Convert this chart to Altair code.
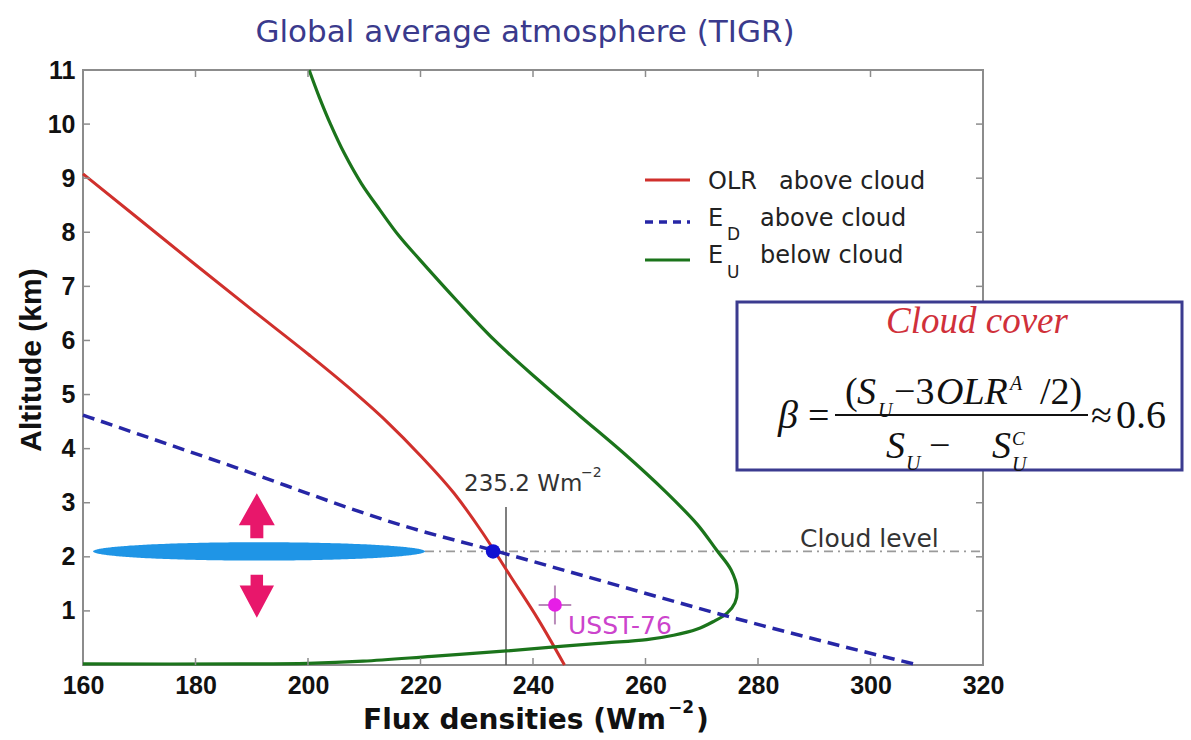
import altair as alt
import numpy as np
import pandas as pd

# ---- profiles: flux density (W m-2) against altitude (km) ----
OLR_FLUX = [160.0, 170.0, 180.0, 190.0, 200.0, 207.0, 214.0, 220.0, 226.0, 231.0, 236.0, 241.0, 245.6]
OLR_ALT = [9.08, 8.24, 7.40, 6.57, 5.75, 5.15, 4.50, 3.87, 3.17, 2.45, 1.64, 0.83, 0.00]

ED_FLUX = [160.0, 184.4, 218.7, 232.9, 250.0, 275.0, 298.7, 308.5]
ED_ALT = [4.62, 3.75, 2.52, 2.12, 1.62, 0.89, 0.25, 0.00]

EU_FLUX = [200.2, 202.0, 204.0, 206.5, 209.5, 212.8, 216.2, 219.9, 226.6, 233.2, 240.6, 248.4,
           256.3, 263.6, 269.2, 272.6, 275.2, 276.3, 275.9, 274.5, 272.0, 269.1, 265.0,
           260.2, 253.0, 245.4, 235.3, 222.0, 209.8, 200.0, 188.0, 160.0]
EU_ALT = [11.0, 10.5, 10.0, 9.45, 8.90, 8.41, 7.93, 7.49, 6.72, 6.00, 5.30, 4.60,
          3.90, 3.20, 2.60, 2.13, 1.76, 1.40, 1.15, 0.96, 0.80, 0.66, 0.55,
          0.47, 0.41, 0.35, 0.26, 0.16, 0.07, 0.03, 0.02, 0.02]

# cloud layer and annotated quantities
CLOUD_ALT = 2.1
CLOUD_CENTER = 191.3
CLOUD_HALF_WIDTH = 29.5
CLOUD_HALF_THICK = 0.17
OLR_CLOUD = 235.2
OLR_CLOUD_TOP = 2.92
CROSS_FLUX, CROSS_ALT = 232.9, 2.1
USST_FLUX, USST_ALT = 243.9, 1.11
USST_ERR_FLUX, USST_ERR_ALT = 2.9, 0.36
ARROW_FLUX, ARROW_UP_ALT, ARROW_DOWN_ALT = 190.9, 2.76, 1.27

X_TICKS = list(range(160, 321, 20))
Y_TICKS = list(range(1, 12))

W, H = 900, 595          # plot area
X0, Y0 = 83, 70          # plot origin on the page
SANS = "DejaVu Sans"
ARIAL = "Liberation Sans"
SERIF = "Liberation Serif"
INK = "#111111"

xs = alt.Scale(domain=[160, 320], nice=False, zero=False)
ys = alt.Scale(domain=[0, 11], nice=False, zero=False)
ONE = pd.DataFrame({"k": [0]})


def px(v):
    return alt.value(v - X0)


def py(v):
    return alt.value(v - Y0)


def text(t, x, y, size, color="#222222", font=SANS, align="left", weight="normal",
         style="normal", angle=0, baseline="alphabetic"):
    return alt.Chart(ONE).mark_text(
        text=t, fontSize=size, font=font, color=color, align=align, baseline=baseline,
        fontWeight=weight, fontStyle=style, angle=angle
    ).encode(x=px(x), y=py(y))


def hrule(x1, x2, y, color, width, dash=None):
    kw = dict(color=color, strokeWidth=width)
    if dash:
        kw["strokeDash"] = dash
    return alt.Chart(ONE).mark_rule(**kw).encode(x=px(x1), x2=px(x2), y=py(y))


def axis(values):
    return alt.Axis(values=values, title=None, grid=False, ticks=False, domain=False,
                    labelFont=ARIAL, labelFontSize=25, labelFontWeight="bold",
                    labelColor=INK, labelPadding=8, labelFlush=False, labelOverlap=False,
                    format="d")


# ---- cloud ellipse ----
t = np.linspace(0, np.pi, 181)
ell = pd.DataFrame({
    "f": CLOUD_CENTER - CLOUD_HALF_WIDTH * np.cos(t),
    "top": CLOUD_ALT + CLOUD_HALF_THICK * np.sin(t),
    "bot": CLOUD_ALT - CLOUD_HALF_THICK * np.sin(t),
})
cloud = alt.Chart(ell).mark_area(color="#1f95e6").encode(
    x=alt.X("f:Q", scale=xs, axis=axis(X_TICKS)),
    y=alt.Y("top:Q", scale=ys, axis=axis(Y_TICKS)),
    y2="bot:Q",
)

cloud_level = alt.Chart(pd.DataFrame({"a": [CLOUD_HALF_WIDTH + CLOUD_CENTER], "b": [320], "y": [CLOUD_ALT]})).mark_rule(
    color="#9a9a9a", strokeWidth=1.6, strokeDash=[9, 5, 2, 5]
).encode(x=alt.X("a:Q", scale=xs), x2="b:Q", y=alt.Y("y:Q", scale=ys))

vline = alt.Chart(pd.DataFrame({"x": [OLR_CLOUD], "y0": [0.0], "y1": [OLR_CLOUD_TOP]})).mark_rule(
    color="#555555", strokeWidth=1.5
).encode(x=alt.X("x:Q", scale=xs), y=alt.Y("y0:Q", scale=ys), y2="y1:Q")


def profile(fx, ay, color, width, interp, dash=None):
    df = pd.DataFrame({"f": fx, "a": ay, "i": range(len(fx))})
    kw = dict(color=color, strokeWidth=width, interpolate=interp)
    if dash:
        kw["strokeDash"] = dash
    return alt.Chart(df).mark_line(**kw).encode(
        x=alt.X("f:Q", scale=xs), y=alt.Y("a:Q", scale=ys), order="i:Q")


red = profile(OLR_FLUX, OLR_ALT, "#d0302c", 3, "monotone")
green = profile(EU_FLUX, EU_ALT, "#1b741b", 3.2, "catmull-rom")
blue = profile(ED_FLUX, ED_ALT, "#2626a6", 3.5, "monotone", [12, 7])

cross = alt.Chart(pd.DataFrame({"f": [CROSS_FLUX], "a": [CROSS_ALT]})).mark_point(
    filled=True, shape="circle", size=210, color="#1212d2", opacity=1
).encode(x=alt.X("f:Q", scale=xs), y=alt.Y("a:Q", scale=ys))

usst_df = pd.DataFrame({
    "f": [USST_FLUX], "a": [USST_ALT],
    "f0": [USST_FLUX - USST_ERR_FLUX], "f1": [USST_FLUX + USST_ERR_FLUX],
    "a0": [USST_ALT - USST_ERR_ALT], "a1": [USST_ALT + USST_ERR_ALT],
})
usst_h = alt.Chart(usst_df).mark_rule(color="#b98ab9", strokeWidth=2).encode(
    x=alt.X("f0:Q", scale=xs), x2="f1:Q", y=alt.Y("a:Q", scale=ys))
usst_v = alt.Chart(usst_df).mark_rule(color="#b98ab9", strokeWidth=2).encode(
    x=alt.X("f:Q", scale=xs), y=alt.Y("a0:Q", scale=ys), y2="a1:Q")
usst_pt = alt.Chart(usst_df).mark_point(filled=True, shape="circle", size=190, color="#e61ee6", opacity=1).encode(
    x=alt.X("f:Q", scale=xs), y=alt.Y("a:Q", scale=ys))

UP_ARROW = "M0,-1 L0.8,0.42 L0.29,0.42 L0.29,1 L-0.29,1 L-0.29,0.42 L-0.8,0.42 Z"
DOWN_ARROW = "M0,1 L0.8,-0.5 L0.29,-0.5 L0.29,-1 L-0.29,-1 L-0.29,-0.5 L-0.8,-0.5 Z"
arrow_up = alt.Chart(pd.DataFrame({"f": [ARROW_FLUX], "a": [ARROW_UP_ALT]})).mark_point(
    shape=UP_ARROW, filled=True, size=2025, color="#e8176b", opacity=1, strokeWidth=0
).encode(x=alt.X("f:Q", scale=xs), y=alt.Y("a:Q", scale=ys))
arrow_down = alt.Chart(pd.DataFrame({"f": [ARROW_FLUX], "a": [ARROW_DOWN_ALT]})).mark_point(
    shape=DOWN_ARROW, filled=True, size=1850, color="#e8176b", opacity=1, strokeWidth=0
).encode(x=alt.X("f:Q", scale=xs), y=alt.Y("a:Q", scale=ys))

# inward ticks on all four sides
xt = pd.DataFrame({"f": X_TICKS[1:-1]})
yt = pd.DataFrame({"a": Y_TICKS[:-1]})
tick_col = "#8c8c8c"
ticks = [
    alt.Chart(xt).mark_rule(color=tick_col, strokeWidth=1.5).encode(
        x=alt.X("f:Q", scale=xs), y=alt.value(H), y2=alt.value(H - 7)),
    alt.Chart(xt).mark_rule(color=tick_col, strokeWidth=1.5).encode(
        x=alt.X("f:Q", scale=xs), y=alt.value(0), y2=alt.value(7)),
    alt.Chart(yt).mark_rule(color=tick_col, strokeWidth=1.5).encode(
        y=alt.Y("a:Q", scale=ys), x=alt.value(0), x2=alt.value(7)),
    alt.Chart(yt).mark_rule(color=tick_col, strokeWidth=1.5).encode(
        y=alt.Y("a:Q", scale=ys), x=alt.value(W - 7), x2=alt.value(W)),
]

# titles and annotations
labels = [
    text("Global average atmosphere (TIGR)", 525, 42, 31, color="#3a3a8c", align="center"),
    text("Altitude (km)", 32, 360, 30, font=ARIAL, weight="bold", align="center",
         angle=270, baseline="middle", color=INK),
    text("Flux densities (Wm", 666, 729, 28, weight="bold", align="right", color=INK),
    text("\u22122", 668, 713, 17, weight="bold", color=INK),
    text(")", 696, 729, 28, weight="bold", color=INK),
    text(f"{OLR_CLOUD} Wm", 464, 491, 23, color="#333333"),
    text("\u22122", 581, 477, 14, color="#333333"),
    text("Cloud level", 800, 547, 25, color="#333333"),
    text("USST-76", 568, 634, 25, color="#cc44cc"),
]

# legend
legend = [
    hrule(645, 690, 180, "#d0302c", 3),
    hrule(645, 690, 222, "#2626a6", 3.5, [8, 6]),
    hrule(645, 690, 260, "#1b741b", 3.2),
    text("OLR", 708, 189, 24),
    text("above cloud", 779, 189, 24),
    text("E", 708, 226, 24),
    text("D", 727, 240, 17),
    text("above cloud", 760, 226, 24),
    text("E", 708, 263, 24),
    text("U", 727, 278, 17),
    text("below cloud", 760, 263, 24),
]

# cloud-cover formula box
box = alt.Chart(ONE).mark_rect(fill="white", stroke="#3b3b8f", strokeWidth=3).encode(
    x=px(737), x2=px(1182), y=py(302), y2=py(470))
FS = 38
formula = [
    box,
    text("Cloud cover", 977, 333, 37, color="#d0303a", font=SERIF, style="italic", align="center"),
    text("\u03b2", 778, 428, 40, font=SERIF, style="italic", color=INK),
    text("=", 808, 428, FS, font=SERIF, color=INK),
    hrule(835, 1088, 415, INK, 2),
    text("(", 845, 404, FS, font=SERIF, color=INK),
    text("S", 857, 404, FS, font=SERIF, style="italic", color=INK),
    text("U", 878, 417, 20, font=SERIF, style="italic", color=INK),
    text("\u22123", 894, 404, FS, font=SERIF, color=INK),
    text("OLR", 936, 404, FS, font=SERIF, style="italic", color=INK),
    text("A", 1010, 390, 20, font=SERIF, style="italic", color=INK),
    text("/2)", 1040, 404, FS, font=SERIF, color=INK),
    text("S", 886, 458, FS, font=SERIF, style="italic", color=INK),
    text("U", 906, 470, 20, font=SERIF, style="italic", color=INK),
    text("\u2212", 929, 458, FS, font=SERIF, color=INK),
    text("S", 992, 458, FS, font=SERIF, style="italic", color=INK),
    text("U", 1012, 471, 20, font=SERIF, style="italic", color=INK),
    text("C", 1012, 445, 19, font=SERIF, style="italic", color=INK),
    text("\u2248", 1091, 428, FS, font=SERIF, color=INK),
    text("0.6", 1116, 428, 40, font=SERIF, color=INK),
]

chart = alt.layer(
    cloud, cloud_level, vline, red, green, blue, cross, usst_h, usst_v, usst_pt,
    arrow_up, arrow_down, *ticks, *labels, *legend, *formula
).properties(
    width=W, height=H,
    padding={"left": X0, "top": Y0, "right": 1191 - X0 - W, "bottom": 740 - Y0 - H},
    autosize=alt.AutoSizeParams(type="none"),
    background="white",
).configure_view(stroke="#8c8c8c", strokeWidth=2)

chart.save("out.html", embed_options={"renderer": "svg", "actions": False})
